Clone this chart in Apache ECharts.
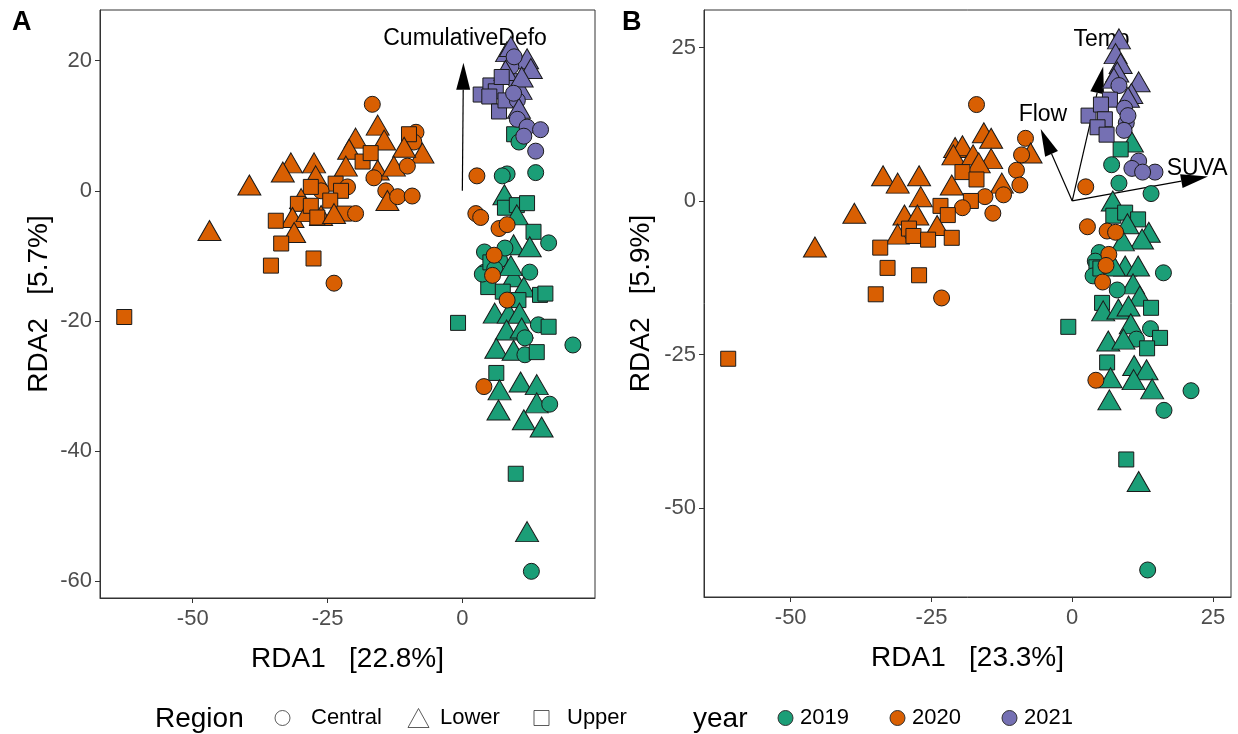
<!DOCTYPE html>
<html><head><meta charset="utf-8">
<script src="https://cdn.jsdelivr.net/npm/echarts@6/dist/echarts.min.js"></script>
<style>html,body{margin:0;padding:0;background:#fff}#c{width:1238px;height:734px}</style>
</head><body><div id="c"></div>
<script>
// ---------- DATA ----------
const years = ['2019', '2020', '2021'];
const regions = ['Central', 'Lower', 'Upper'];   // codes C, L, U

// Panel A: [RDA1, RDA2, region code]
const a2019 = [[9.6,8.7,'U'],[10.5,7.5,'C'],[8.3,2.6,'C'],[7.4,2.3,'C'],[13.6,2.8,'C'],[7.8,-0.6,'L'],[7.9,-2.6,'U'],[10.1,-2.2,'U'],[12.0,-1.9,'U'],[10.1,-3.7,'L'],[13.2,-6.3,'U'],[16.0,-8.0,'C'],[9.5,-8.3,'L'],[12.5,-8.6,'L'],[4.1,-9.4,'C'],[4.1,-12.5,'C'],[6.9,-10.6,'C'],[4.8,-14.8,'U'],[7.9,-8.8,'C'],[3.7,-12.8,'C'],[5.2,-11.0,'U'],[6.0,-12.0,'C'],[12.5,-12.5,'C'],[9.5,-13.2,'L'],[9.0,-11.5,'L'],[11.4,-14.8,'L'],[7.5,-15.5,'U'],[14.4,-16.0,'U'],[15.4,-15.8,'U'],[10.4,-16.8,'U'],[-0.8,-20.3,'U'],[6.0,-18.8,'L'],[8.6,-18.8,'L'],[10.6,-18.8,'L'],[14.1,-20.6,'C'],[16.0,-20.9,'U'],[8.2,-21.4,'L'],[11.0,-21.1,'L'],[11.6,-22.6,'C'],[20.5,-23.7,'C'],[6.3,-24.2,'L'],[9.5,-24.5,'L'],[11.6,-25.2,'C'],[13.8,-24.8,'U'],[6.3,-28.0,'U'],[6.9,-30.6,'L'],[10.8,-29.4,'L'],[13.8,-29.8,'L'],[13.8,-32.6,'L'],[16.2,-32.8,'C'],[6.7,-33.7,'L'],[11.4,-35.2,'L'],[14.7,-36.3,'L'],[9.9,-43.5,'U'],[12.0,-52.4,'L'],[12.8,-58.5,'C']];
const a2020 = [[-16.7,13.3,'C'],[-15.7,10.1,'L'],[-19.8,8.1,'L'],[-14.5,7.8,'L'],[-8.6,9.0,'C'],[-9.0,7.5,'C'],[-9.9,8.7,'U'],[-7.4,5.8,'L'],[-10.8,6.7,'L'],[-21.0,6.4,'L'],[-18.5,4.5,'U'],[-17.0,5.8,'U'],[-31.8,4.3,'L'],[-27.5,4.3,'L'],[-33.3,2.9,'L'],[-39.5,0.9,'L'],[-46.9,-6.1,'L'],[-62.7,-19.4,'U'],[-21.6,3.8,'L'],[-15.7,3.2,'L'],[-12.7,3.8,'L'],[-10.2,3.8,'C'],[-16.4,2.0,'C'],[-27.2,2.3,'L'],[-23.5,1.1,'U'],[-26.2,0.0,'C'],[-28.1,0.6,'U'],[-21.3,0.6,'C'],[-22.5,0.0,'U'],[-24.5,-1.5,'U'],[-14.2,0.0,'C'],[-13.9,-1.5,'L'],[-12.0,-0.9,'C'],[-9.3,-0.8,'C'],[-29.9,-1.2,'L'],[-30.5,-2.0,'U'],[-31.5,-4.1,'L'],[-28.7,-3.2,'L'],[-26.2,-3.8,'L'],[-28.1,-2.3,'U'],[-26.9,-4.1,'U'],[-34.6,-4.6,'U'],[-31.2,-6.4,'L'],[-21.9,-3.5,'U'],[-19.8,-3.5,'C'],[-23.8,-3.5,'L'],[-33.6,-8.1,'U'],[-27.6,-10.4,'U'],[-35.5,-11.5,'U'],[-23.8,-14.2,'C'],[2.7,2.3,'C'],[2.5,-3.5,'C'],[3.4,-4.1,'C'],[6.8,-5.8,'C'],[8.3,-5.2,'C'],[5.9,-9.9,'C'],[5.6,-13.0,'C'],[8.3,-16.8,'C'],[4.0,-30.1,'C']];
const a2021 = [[8.3,21.4,'L'],[9.0,22.2,'L'],[12.0,20.3,'L'],[12.7,18.8,'L'],[9.0,19.1,'C'],[9.6,20.6,'C'],[9.9,16.8,'C'],[10.8,15.6,'L'],[3.4,14.8,'U'],[5.2,16.2,'U'],[6.2,15.3,'U'],[5.0,14.5,'U'],[6.8,12.2,'U'],[8.0,13.9,'U'],[10.2,13.9,'C'],[10.5,12.7,'L'],[8.0,18.5,'L'],[7.3,17.5,'U'],[11.0,17.5,'L'],[9.5,15.0,'C'],[10.2,11.0,'C'],[12.0,9.8,'C'],[14.5,9.4,'C'],[11.4,8.4,'C'],[13.6,6.1,'C']];

// Panel B
const b2019 = [[10.6,9.6,'L'],[8.6,8.4,'U'],[7.0,5.9,'C'],[8.3,2.9,'C'],[14.0,1.2,'C'],[7.2,0.0,'L'],[7.3,-2.4,'U'],[9.4,-1.9,'U'],[11.7,-3.0,'U'],[9.8,-3.7,'L'],[13.6,-5.1,'L'],[12.4,-6.2,'L'],[9.0,-6.5,'L'],[4.8,-8.4,'C'],[4.1,-9.8,'C'],[4.3,-10.8,'U'],[3.7,-12.2,'C'],[5.0,-11.0,'U'],[9.4,-10.6,'L'],[11.7,-10.6,'L'],[7.4,-10.6,'L'],[16.2,-11.7,'C'],[10.8,-13.5,'L'],[8.0,-14.5,'C'],[12.0,-15.5,'L'],[5.3,-16.6,'U'],[14.0,-17.4,'U'],[5.5,-17.9,'L'],[8.2,-17.6,'L'],[10.0,-17.1,'L'],[-0.7,-20.5,'U'],[10.4,-20.0,'L'],[13.9,-20.8,'C'],[15.6,-22.3,'U'],[11.4,-22.5,'C'],[6.4,-22.8,'L'],[9.1,-22.5,'L'],[13.3,-24.0,'U'],[6.2,-26.3,'U'],[11.0,-26.8,'L'],[13.2,-27.5,'L'],[6.8,-28.8,'L'],[10.9,-29.1,'L'],[14.2,-30.6,'L'],[21.1,-30.9,'C'],[6.6,-32.4,'L'],[16.3,-34.1,'C'],[9.6,-42.1,'U'],[11.8,-45.7,'L'],[13.4,-60.1,'C']];
const b2020 = [[-17.0,15.7,'C'],[-15.7,11.1,'L'],[-14.4,10.2,'L'],[-8.3,10.2,'C'],[-7.4,7.8,'L'],[-9.0,7.5,'C'],[-20.8,8.7,'L'],[-19.5,9.0,'L'],[-21.1,7.5,'L'],[-17.6,7.5,'L'],[-14.4,6.9,'L'],[-16.6,6.2,'L'],[-9.9,5.0,'C'],[-19.5,4.7,'U'],[-17.0,3.5,'U'],[-33.6,4.1,'L'],[-31.0,2.9,'L'],[-27.2,4.1,'L'],[-21.4,2.6,'L'],[-12.5,2.9,'L'],[-9.3,2.6,'C'],[-15.5,0.7,'C'],[-12.2,1.0,'C'],[-18.0,0.0,'U'],[-26.9,0.7,'L'],[-23.4,-0.8,'U'],[-19.5,-1.1,'C'],[-22.1,-2.3,'U'],[-38.7,-2.0,'L'],[-29.8,-2.3,'L'],[-14.1,-2.0,'C'],[-27.5,-2.3,'L'],[-24.0,-4.0,'L'],[-31.0,-5.4,'L'],[-29.0,-4.5,'U'],[-28.2,-5.7,'U'],[-25.6,-6.3,'U'],[-21.4,-6.0,'U'],[-45.7,-7.5,'L'],[-34.1,-7.6,'U'],[-32.8,-10.9,'U'],[-27.2,-12.1,'U'],[-34.9,-15.2,'U'],[-23.2,-15.8,'C'],[-61.1,-25.7,'U'],[2.4,2.3,'C'],[2.7,-4.2,'C'],[6.2,-4.9,'C'],[7.7,-5.1,'C'],[6.5,-8.7,'C'],[6.0,-10.5,'C'],[5.4,-13.2,'C'],[4.2,-29.2,'C']];
const b2021 = [[8.3,26.4,'L'],[7.7,24.0,'L'],[8.6,22.4,'L'],[8.0,21.0,'L'],[7.4,20.0,'L'],[8.3,18.8,'C'],[11.8,19.4,'L'],[10.5,17.5,'L'],[9.9,16.9,'L'],[6.7,16.5,'U'],[9.3,15.1,'C'],[2.9,13.9,'U'],[5.1,15.7,'U'],[5.8,13.3,'U'],[4.5,12.0,'U'],[6.1,10.8,'U'],[9.6,12.7,'C'],[9.9,13.9,'C'],[9.2,11.5,'C'],[11.8,6.5,'C'],[10.6,5.3,'C'],[14.7,4.7,'C'],[12.5,4.7,'C']];

// Biplot vectors: tips and label anchors
const vecANames = ['CumulativeDefo'];
const vecATips = [[0.2, 19.7]];
const vecALabels = [[0.5, 23.4]];
const vecBNames = ['Temp', 'Flow', 'SUVA'];
const vecBTips = [[5.5, 21.9], [-5.6, 11.7], [24.1, 4.0]];
const vecBLabels = [[5.2, 26.3], [-5.2, 14.1], [22.2, 5.2]];

// Tick labels
const xTicksA = [-50, -25, 0];
const yTicksA = [20, 0, -20, -40, -60];
const xTicksB = [-50, -25, 0, 25];
const yTicksB = [25, 0, -25, -50];
const xTitleA = 'RDA1   [22.8%]', yTitleA = 'RDA2   [5.7%]';
const xTitleB = 'RDA1   [23.3%]', yTitleB = 'RDA2   [5.9%]';

// ---------- STYLE ----------
const FONT = 'Liberation Sans, Arial, Helvetica, sans-serif';
const yearColor = { '2019': '#1B9E77', '2020': '#D95F02', '2021': '#7570B3' };
const shapeOf = { C: 'circle', L: 'triangle', U: 'rect' };
const sizeOf = { C: 16, L: [23, 20], U: 15 };
const regionCode = { Central: 'C', Lower: 'L', Upper: 'U' };

function arrowRender(names) {
  return function (params, api) {
    const o = api.coord([api.value(0), api.value(1)]);
    const t = api.coord([api.value(2), api.value(3)]);
    const l = api.coord([api.value(4), api.value(5)]);
    const dx = t[0] - o[0], dy = t[1] - o[1];
    const len = Math.hypot(dx, dy) || 1;
    const ux = dx / len, uy = dy / len;
    const L = 27, W = 7;
    const bx = t[0] - ux * L, by = t[1] - uy * L;
    const nx = -uy, ny = ux;
    return {
      type: 'group',
      children: [
        { type: 'line', shape: { x1: o[0], y1: o[1], x2: bx, y2: by }, style: { stroke: '#000', lineWidth: 1.2 } },
        { type: 'polygon', shape: { points: [[t[0], t[1]], [bx + nx * W, by + ny * W], [bx - nx * W, by - ny * W]] }, style: { fill: '#000' } },
        { type: 'text', style: { text: names[params.dataIndex], x: l[0], y: l[1], align: 'center', verticalAlign: 'middle', fontSize: 23, fontFamily: FONT, fill: '#000' } }
      ]
    };
  };
}

function xAxisCfg(gi, min, max, ticks, name) {
  return {
    type: 'value', gridIndex: gi, min: min, max: max, name: name,
    nameLocation: 'middle', nameGap: 47,
    nameTextStyle: { fontSize: 28, color: '#000', fontFamily: FONT },
    axisLine: { show: true, onZero: false, lineStyle: { color: '#333', width: 1 } },
    axisTick: { show: true, length: 5, customValues: ticks, lineStyle: { color: '#333' } },
    axisLabel: { customValues: ticks, fontSize: 22, color: '#4d4d4d', margin: 10, fontFamily: FONT },
    splitLine: { show: false }
  };
}
function yAxisCfg(gi, min, max, ticks, name, gap) {
  return {
    type: 'value', gridIndex: gi, min: min, max: max, name: name,
    nameLocation: 'middle', nameGap: gap,
    nameTextStyle: { fontSize: 28, color: '#000', fontFamily: FONT },
    axisLine: { show: true, onZero: false, lineStyle: { color: '#333', width: 1 } },
    axisTick: { show: true, length: 5, customValues: ticks, lineStyle: { color: '#333' } },
    axisLabel: { customValues: ticks, fontSize: 22, color: '#4d4d4d', margin: 8, fontFamily: FONT },
    splitLine: { show: false }
  };
}

function pointSeries(name, data, gi) {
  return {
    type: 'scatter', name: name, xAxisIndex: gi, yAxisIndex: gi, z: 3,
    data: data.map(d => [d[0], d[1], d[2]]),
    symbol: v => shapeOf[v[2]],
    symbolSize: v => sizeOf[v[2]],
    itemStyle: { color: yearColor[name], borderColor: '#1a1a1a', borderWidth: 1, opacity: 1 },
    emphasis: { disabled: true }, animation: false
  };
}
function arrowSeries(gi, names, tips, labels) {
  return {
    type: 'custom', xAxisIndex: gi, yAxisIndex: gi, z: 2, clip: false,
    renderItem: arrowRender(names),
    encode: { x: [0, 2, 4], y: [1, 3, 5] },
    data: tips.map((t, i) => [0, 0, t[0], t[1], labels[i][0], labels[i][1]]),
    animation: false, silent: true
  };
}

const dataA = { '2019': a2019, '2020': a2020, '2021': a2021 };
const dataB = { '2019': b2019, '2020': b2020, '2021': b2021 };

const series = [];
series.push(arrowSeries(0, vecANames, vecATips, vecALabels));
series.push(arrowSeries(1, vecBNames, vecBTips, vecBLabels));
years.forEach(y => series.push(pointSeries(y, dataA[y], 0)));
years.forEach(y => series.push(pointSeries(y, dataB[y], 1)));
// legend-only series for Region shapes
regions.forEach(r => series.push({
  type: 'scatter', name: r, xAxisIndex: 0, yAxisIndex: 0, data: [],
  symbol: shapeOf[regionCode[r]],
  itemStyle: { color: '#fff', borderColor: '#333', borderWidth: 1 }
}));

// legend positions (icon centre x, text pad)
const legendItems = [
  { name: 'Central', cx: 282, icon: 'circle', w: 15, h: 15, hollow: true, pad: 16 },
  { name: 'Lower', cx: 418, icon: 'triangle', w: 21, h: 19, hollow: true, pad: 6 },
  { name: 'Upper', cx: 541, icon: 'rect', w: 15, h: 15, hollow: true, pad: 13 },
  { name: '2019', cx: 785, icon: 'circle', w: 15, h: 15, hollow: false, pad: 2 },
  { name: '2020', cx: 897, icon: 'circle', w: 15, h: 15, hollow: false, pad: 2 },
  { name: '2021', cx: 1009, icon: 'circle', w: 15, h: 15, hollow: false, pad: 2 }
];
const legends = legendItems.map(it => ({
  data: [{ name: it.name, icon: it.icon }],
  left: it.cx - it.w / 2, top: 707, padding: 0,
  itemWidth: it.w, itemHeight: it.h, selectedMode: false,
  itemStyle: it.hollow ? { color: '#fff', borderColor: '#333', borderWidth: 1 }
                       : { color: yearColor[it.name], borderColor: '#333', borderWidth: 1 },
  textStyle: { fontSize: 22, color: '#000', fontFamily: FONT, padding: [0, 0, 0, it.pad] }
}));

const chart = echarts.init(document.getElementById('c'), null, { renderer: 'canvas' });
chart.setOption({
  backgroundColor: '#fff',
  animation: false,
  grid: [
    { left: 100, top: 10, width: 495, height: 588, show: true, borderColor: '#333', borderWidth: 1, backgroundColor: '#fff' },
    { left: 704, top: 10, width: 527, height: 587, show: true, borderColor: '#333', borderWidth: 1, backgroundColor: '#fff' }
  ],
  xAxis: [xAxisCfg(0, -67.2, 24.6, xTicksA, xTitleA), xAxisCfg(1, -65.4, 28.2, xTicksB, xTitleB)],
  yAxis: [yAxisCfg(0, -62.6, 27.8, yTicksA, yTitleA, 47), yAxisCfg(1, -64.5, 31.1, yTicksB, yTitleB, 49)],
  legend: legends,
  graphic: [
    { type: 'text', left: 12, top: 9, style: { text: 'A', fontSize: 27, fontWeight: 'bold', fontFamily: FONT, fill: '#000' } },
    { type: 'text', left: 622, top: 9, style: { text: 'B', fontSize: 27, fontWeight: 'bold', fontFamily: FONT, fill: '#000' } },
    { type: 'text', left: 155, top: 705, style: { text: 'Region', fontSize: 28, fontFamily: FONT, fill: '#000' } },
    { type: 'text', left: 693, top: 705, style: { text: 'year', fontSize: 28, fontFamily: FONT, fill: '#000' } }
  ],
  series: series
});
</script></body></html>
